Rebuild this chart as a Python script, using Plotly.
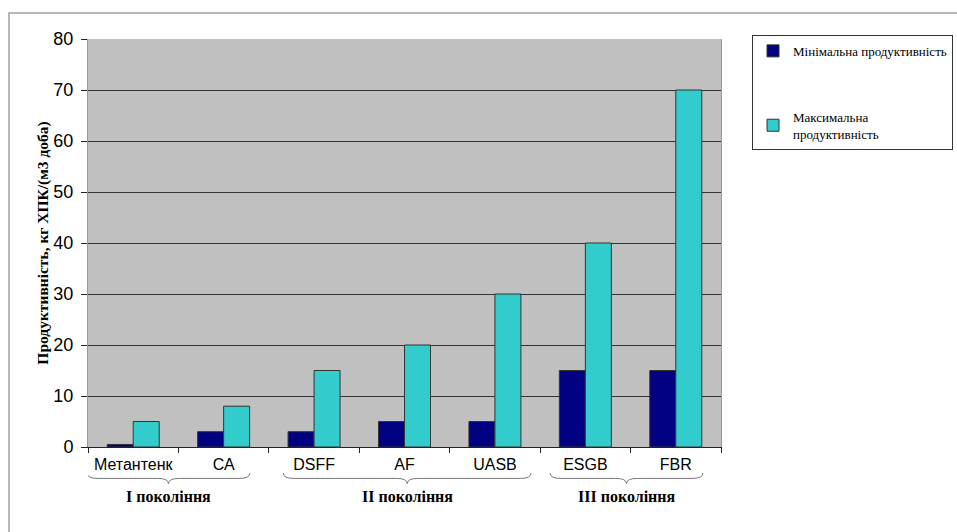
import plotly.graph_objects as go

categories = ["Метантенк", "СА", "DSFF", "AF", "UASB", "ESGB", "FBR"]
min_vals = [0.5, 3, 3, 5, 5, 15, 15]
max_vals = [5, 8, 15, 20, 30, 40, 70]
series_names = ["Мінімальна продуктивність", "Максимальна<br>продуктивність"]
groups = ["І покоління", "ІІ покоління", "ІІІ покоління"]
group_spans = [(-0.51, 1.29), (1.66, 4.4), (4.61, 6.3)]
y_ticks = [0, 10, 20, 30, 40, 50, 60, 70, 80]

SERIF = "Liberation Serif"
SANS = "Liberation Sans"

xs = list(range(len(categories)))

fig = go.Figure()
fig.add_trace(go.Bar(x=xs, y=min_vals, name=series_names[0], legendgroup="a",
                     marker=dict(color="#000080", line=dict(color="#333333", width=1))))
fig.add_trace(go.Bar(x=xs, y=max_vals, name=series_names[1], legendgroup="b",
                     marker=dict(color="#33CCCC", line=dict(color="#333333", width=1))))
# invisible trace to carry boundary tick marks on overlay axis
fig.add_trace(go.Scatter(x=[-0.5], y=[0], xaxis="x2", mode="markers",
                         marker=dict(opacity=0), showlegend=False, hoverinfo="skip"))

fig.update_layout(
    width=957, height=532,
    margin=dict(l=88, r=236, t=39, b=85, autoexpand=False),
    paper_bgcolor="white", plot_bgcolor="#C0C0C0",
    barmode="group", bargap=0.425, bargroupgap=0,
    font=dict(family=SANS, color="black"),
    xaxis=dict(range=[-0.5, 6.5], tickvals=xs, ticktext=categories,
               ticks="", showgrid=False, zeroline=False,
               showline=True, linecolor="#222222", linewidth=1,
               tickfont=dict(size=16, family=SANS), ticklabelstandoff=3),
    xaxis2=dict(range=[-0.5, 6.5], overlaying="x", side="bottom",
                tickvals=[i - 0.5 for i in range(len(categories) + 1)],
                showticklabels=False, ticks="outside", ticklen=5, tickcolor="#222222",
                showgrid=False, zeroline=False, showline=False),
    yaxis=dict(range=[0, 80], tickvals=y_ticks, ticks="outside", ticklen=6,
               tickcolor="#222222", showgrid=True, gridcolor="#333333", gridwidth=1,
               zeroline=False, showline=True, linecolor="#999999", linewidth=1, mirror=True,
               tickfont=dict(size=18, family=SANS), ticklabelstandoff=4,
               title=dict(text="<b>Продуктивність, кг ХПК/(м3 доба)</b>",
                          font=dict(size=15.5, family=SERIF),
                          standoff=0)),
    legend=dict(x=1.049, y=1.01, xanchor="left", yanchor="top",
                bordercolor="#333333", borderwidth=1, bgcolor="white",
                font=dict(size=13, family=SERIF),
                traceorder="grouped", tracegroupgap=46, itemwidth=30),
)

shapes = []
# outer chart frame
shapes.append(dict(type="rect", xref="paper", yref="paper", x0=-0.1248, x1=1.6,
                   y0=-0.4, y1=1.0637, line=dict(color="#A0A0A0", width=1.5), layer="below"))

yt, yl, yb = -0.064, -0.077, -0.09
for (x0, x1) in group_spans:
    xm = (x0 + x1) / 2
    dx = 0.12
    path = (f"M {x0},{yt} Q {x0},{yl} {x0+dx},{yl} L {xm-dx},{yl} "
            f"Q {xm},{yl} {xm},{yb} Q {xm},{yl} {xm+dx},{yl} "
            f"L {x1-dx},{yl} Q {x1},{yl} {x1},{yt}")
    shapes.append(dict(type="path", xref="x", yref="paper", path=path,
                       line=dict(color="#777777", width=1)))
fig.update_layout(shapes=shapes)

for (x0, x1), g in zip(group_spans, groups):
    fig.add_annotation(x=(x0 + x1) / 2, y=-0.122, xref="x", yref="paper",
                       text=f"<b>{g}</b>", showarrow=False, yanchor="middle",
                       font=dict(size=16, family=SERIF))

fig.write_html("out.html")
